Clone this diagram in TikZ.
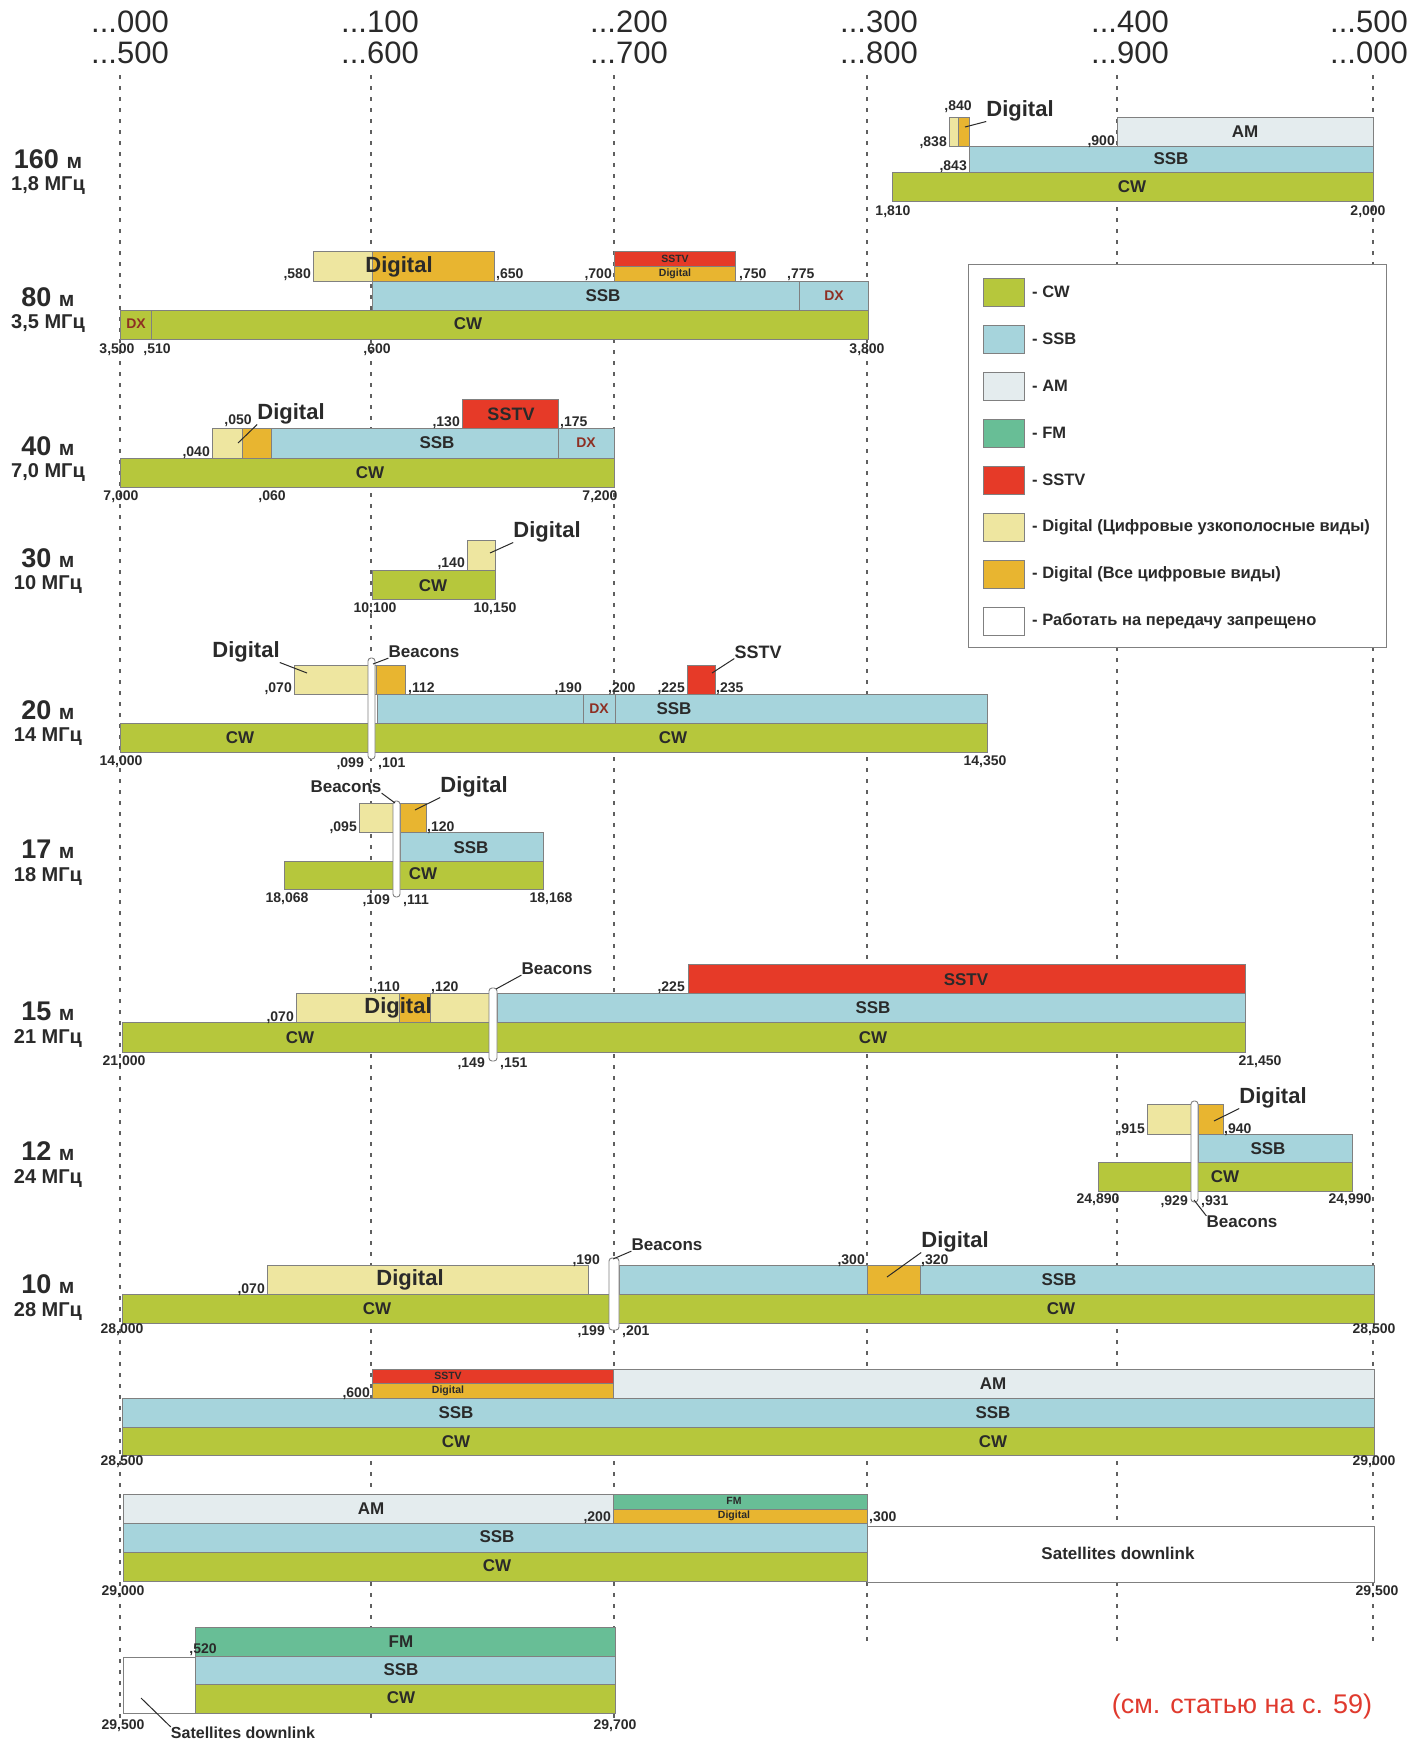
\documentclass[tikz,border=0pt]{standalone}
\usepackage{fontspec}
\setmainfont{Liberation Sans}
\definecolor{cwc}{HTML}{B6C73C}
\definecolor{ssbc}{HTML}{A6D4DC}
\definecolor{amc}{HTML}{E4ECEE}
\definecolor{fmc}{HTML}{68BE96}
\definecolor{sstvc}{HTML}{E63A28}
\definecolor{dignc}{HTML}{EEE6A0}
\definecolor{digac}{HTML}{E8B530}
\definecolor{txtc}{HTML}{2A2A2A}
\definecolor{dxc}{HTML}{8E2F23}
\definecolor{barline}{HTML}{808080}
\definecolor{gridc}{HTML}{606060}
\definecolor{notec}{HTML}{E03A2E}

\tikzset{
  bar/.style={draw=barline, line width=0.9pt},
  cw/.style={bar, fill=cwc},
  ssb/.style={bar, fill=ssbc},
  am/.style={bar, fill=amc},
  fm/.style={bar, fill=fmc},
  sstv/.style={bar, fill=sstvc},
  dign/.style={bar, fill=dignc},
  diga/.style={bar, fill=digac},
  nogo/.style={bar, fill=white},
  beacon/.style={draw=barline, fill=white, line width=0.9pt, rounded corners=3pt},
  lbl/.style={inner sep=0pt, text=txtc, font=\fontsize{17}{19}\selectfont\bfseries},
  biglbl/.style={lbl, font=\fontsize{22}{24}\selectfont\bfseries},
  smalllbl/.style={lbl, font=\fontsize{10.5}{12}\selectfont\bfseries},
  dxlbl/.style={lbl, text=dxc, font=\fontsize{14}{16}\selectfont\bfseries},
  num/.style={inner sep=0pt, text=txtc, font=\fontsize{14}{16}\selectfont\bfseries},
  lead/.style={draw=txtc, line width=1pt},
  gridline/.style={draw=gridc, line width=1.3pt, dash pattern=on 4pt off 7pt},
  head/.style={inner sep=0pt, text=txtc, font=\fontsize{31}{34}\selectfont},
  bandl/.style={inner sep=0pt, text=txtc, font=\fontsize{27}{30}\selectfont\bfseries},
  mhzl/.style={inner sep=0pt, text=txtc, font=\fontsize{20}{22}\selectfont\bfseries},
  legtxt/.style={inner sep=0pt, anchor=west, text=txtc, font=\fontsize{16.5}{18}\selectfont\bfseries},
}
\newcommand\msmall{\fontsize{21}{24}\selectfont}

\begin{document}
\begin{tikzpicture}[x=1pt,y=-1pt]
\path[use as bounding box, fill=white] (0,0) rectangle (1413,1743);

% grid and scale
\foreach \gx/\gy in {120/1720, 371/1720, 614/1720, 867/1645, 1117/1645, 1373/1645}
  \draw[gridline] (\gx,75) -- (\gx,\gy);
\foreach \gx/\ta/\tb [count=\i] in {130/000/500, 380/100/600, 629/200/700, 879/300/800, 1130/400/900, 1369/500/000} {
  \node[head] (ha\i) at (\gx,22) {...\ta};
  \node[head] (hb\i) at (\gx,53) {...\tb};
}

% band names
\foreach \yb/\nm/\fq [count=\i] in {159/160/{1,8}, 297/80/{3,5}, 446/40/{7,0}, 558/30/10, 710/20/14, 849/17/18, 1011/15/21, 1151/12/24, 1284/10/28} {
  \node[bandl] (bn\i) at (48,\yb) {\nm\ {\msmall м}};
  \node[mhzl] (bf\i) at (48,\yb+27) {\fq\ МГц};
}

% legend
\draw[draw=barline, fill=white, line width=0.9pt] (968,264) rectangle (1386,647);
\foreach \st/\tx [count=\i from 0] in {cw/CW, ssb/SSB, am/AM, fm/FM, sstv/SSTV,
    dign/{Digital (Цифровые узкополосные виды)}, diga/{Digital (Все цифровые виды)},
    nogo/{Работать на передачу запрещено}} {
  \draw[\st] (983,278+47*\i) rectangle (1024,306+47*\i);
  \node[legtxt] (lg\i) at (1032,292+47*\i) {- \tx};
}

% 160 m
\draw[am] (1117,117) rectangle (1373,146);
\draw[ssb] (969,146) rectangle (1373,172);
\draw[cw] (892,172) rectangle (1373,201);
\draw[dign] (949,117) rectangle (958,146);
\draw[diga] (958,117) rectangle (969,146);
\node[lbl] (t160am) at (1245,132) {AM};
\node[lbl] (t160ssb) at (1171,159) {SSB};
\node[lbl] (t160cw) at (1132,187) {CW};
\node[biglbl] (dg160) at (1020,111) {Digital};
\node[num] (n160a) at (958,107) {,840};
\node[num, anchor=base east] (n160b) at (947,146) {,838};
\node[num, anchor=base east] (n160c) at (1115,145) {,900};
\node[num, anchor=base east] (n160d) at (967,170) {,843};
\node[num] (n160e) at (893,212) {1,810};
\node[num] (n160f) at (1368,212) {2,000};
\coordinate (p160) at (965,127);
\draw[lead] (dg160.south west) -- (p160);

% 80 m
\draw[dign] (313,251) rectangle (372,281);
\draw[diga] (372,251) rectangle (494,281);
\draw[sstv] (614,251) rectangle (735,266);
\draw[diga] (614,266) rectangle (735,281);
\draw[ssb] (372,281) rectangle (799,310);
\draw[ssb] (799,281) rectangle (868,310);
\draw[cw] (120,310) rectangle (151,339);
\draw[cw] (151,310) rectangle (868,339);
\node[biglbl] (t80dg) at (399,267) {Digital};
\node[smalllbl] (t80st) at (675,259) {SSTV};
\node[smalllbl] (t80sd) at (675,274) {Digital};
\node[lbl] (t80ssb) at (603,296) {SSB};
\node[dxlbl] (t80dxa) at (834,296) {DX};
\node[dxlbl] (t80dxb) at (136,324) {DX};
\node[lbl] (t80cw) at (468,324) {CW};
\node[num, anchor=base east] (n80a) at (311,278) {,580};
\node[num, anchor=base west] (n80b) at (496,278) {,650};
\node[num, anchor=base east] (n80c) at (612,278) {,700};
\node[num, anchor=base west] (n80d) at (739,278) {,750};
\node[num, anchor=base west] (n80e) at (787,278) {,775};
\node[num] (n80f) at (117,350) {3,500};
\node[num] (n80g) at (157,350) {,510};
\node[num] (n80h) at (377,350) {,600};
\node[num] (n80i) at (867,350) {3,800};

% 40 m
\draw[sstv] (462,399) rectangle (558,428);
\draw[dign] (212,428) rectangle (242,458);
\draw[diga] (242,428) rectangle (271,458);
\draw[ssb] (271,428) rectangle (558,458);
\draw[ssb] (558,428) rectangle (614,458);
\draw[cw] (120,458) rectangle (614,487);
\node[lbl, font=\fontsize{18}{20}\selectfont\bfseries] (t40st) at (511,414) {SSTV};
\node[lbl] (t40ssb) at (437,443) {SSB};
\node[dxlbl] (t40dx) at (586,443) {DX};
\node[lbl] (t40cw) at (370,473) {CW};
\node[biglbl] (dg40) at (291,414) {Digital};
\node[num, anchor=base east] (n40a) at (210,456) {,040};
\node[num] (n40b) at (238,421) {,050};
\node[num, anchor=base east] (n40c) at (460,426) {,130};
\node[num, anchor=base west] (n40d) at (560,426) {,175};
\node[num] (n40e) at (121,497) {7,000};
\node[num] (n40f) at (272,497) {,060};
\node[num] (n40g) at (600,497) {7,200};
\coordinate (p40) at (238,443);
\draw[lead] (dg40.south west) -- (p40);

% 30 m
\draw[dign] (467,540) rectangle (495,570);
\draw[cw] (372,570) rectangle (495,599);
\node[lbl] (t30cw) at (433,586) {CW};
\node[biglbl] (dg30) at (547,532) {Digital};
\node[num, anchor=base east] (n30a) at (465,567) {,140};
\node[num] (n30b) at (375,609) {10,100};
\node[num] (n30c) at (495,609) {10,150};
\coordinate (p30) at (490,553);
\draw[lead] (dg30.south west) -- (p30);

% 20 m
\draw[dign] (294,665) rectangle (376,694);
\draw[diga] (376,665) rectangle (405,694);
\draw[sstv] (687,665) rectangle (715,694);
\draw[ssb] (377,694) rectangle (583,723);
\draw[ssb] (583,694) rectangle (615,723);
\draw[ssb] (615,694) rectangle (987,723);
\draw[cw] (120,723) rectangle (987,752);
\draw[beacon] (368,658) rectangle (375,759);
\node[lbl] (t20ssb) at (674,709) {SSB};
\node[dxlbl] (t20dx) at (599,709) {DX};
\node[lbl] (t20cwa) at (240,738) {CW};
\node[lbl] (t20cwb) at (673,738) {CW};
\node[biglbl] (dg20) at (246,652) {Digital};
\node[lbl] (bc20) at (424,652) {Beacons};
\node[lbl, font=\fontsize{18}{20}\selectfont\bfseries] (st20) at (758,652) {SSTV};
\node[num, anchor=base east] (n20a) at (292,692) {,070};
\node[num, anchor=base west] (n20b) at (408,692) {,112};
\node[num, anchor=base east] (n20c) at (582,692) {,190};
\node[num, anchor=base west] (n20d) at (608,692) {,200};
\node[num, anchor=base east] (n20e) at (685,692) {,225};
\node[num, anchor=base west] (n20f) at (716,692) {,235};
\node[num] (n20g) at (121,762) {14,000};
\node[num, anchor=base east] (n20h) at (364,767) {,099};
\node[num, anchor=base west] (n20i) at (378,767) {,101};
\node[num] (n20j) at (985,762) {14,350};
\coordinate (p20d) at (307,673);
\coordinate (p20b) at (373,664);
\coordinate (p20s) at (712,673);
\draw[lead] (dg20.south east) -- (p20d);
\draw[lead] (bc20.south west) -- (p20b);
\draw[lead] (st20.south west) -- (p20s);

% 17 m
\draw[dign] (359,803) rectangle (400,832);
\draw[diga] (400,803) rectangle (426,832);
\draw[ssb] (400,832) rectangle (543,861);
\draw[cw] (284,861) rectangle (543,889);
\draw[beacon] (393,801) rectangle (400,897);
\node[lbl] (t17ssb) at (471,848) {SSB};
\node[lbl] (t17cw) at (423,874) {CW};
\node[lbl] (bc17) at (346,787) {Beacons};
\node[biglbl] (dg17) at (474,787) {Digital};
\node[num, anchor=base east] (n17a) at (357,831) {,095};
\node[num, anchor=base west] (n17b) at (427,831) {,120};
\node[num] (n17c) at (287,899) {18,068};
\node[num, anchor=base east] (n17d) at (390,904) {,109};
\node[num, anchor=base west] (n17e) at (403,904) {,111};
\node[num] (n17f) at (551,899) {18,168};
\coordinate (p17b) at (395,803);
\coordinate (p17d) at (415,810);
\draw[lead] (bc17.south east) -- (p17b);
\draw[lead] (dg17.south west) -- (p17d);

% 15 m
\draw[sstv] (688,964) rectangle (1245,993);
\draw[dign] (296,993) rectangle (490,1022);
\draw[diga] (399,993) rectangle (430,1022);
\draw[ssb] (497,993) rectangle (1245,1022);
\draw[cw] (122,1022) rectangle (1245,1052);
\draw[beacon] (489,988) rectangle (497,1061);
\node[lbl] (t15st) at (966,980) {SSTV};
\node[biglbl] (t15dg) at (398,1008) {Digital};
\node[lbl] (t15ssb) at (873,1008) {SSB};
\node[lbl] (t15cwa) at (300,1038) {CW};
\node[lbl] (t15cwb) at (873,1038) {CW};
\node[lbl] (bc15) at (557,969) {Beacons};
\node[num, anchor=base east] (n15a) at (294,1021) {,070};
\node[num, anchor=base east] (n15b) at (400,991) {,110};
\node[num, anchor=base west] (n15c) at (431,991) {,120};
\node[num, anchor=base east] (n15d) at (685,991) {,225};
\node[num] (n15e) at (124,1062) {21,000};
\node[num, anchor=base east] (n15f) at (485,1067) {,149};
\node[num, anchor=base west] (n15g) at (500,1067) {,151};
\node[num] (n15h) at (1260,1062) {21,450};
\coordinate (p15b) at (496,989);
\draw[lead] (bc15.south west) -- (p15b);

% 12 m
\draw[dign] (1147,1104) rectangle (1198,1134);
\draw[diga] (1198,1104) rectangle (1223,1134);
\draw[ssb] (1198,1134) rectangle (1352,1162);
\draw[cw] (1098,1162) rectangle (1352,1191);
\draw[beacon] (1191,1101) rectangle (1198,1202);
\node[lbl] (t12ssb) at (1268,1149) {SSB};
\node[lbl] (t12cw) at (1225,1177) {CW};
\node[biglbl] (dg12) at (1273,1098) {Digital};
\node[lbl] (bc12) at (1242,1222) {Beacons};
\node[num, anchor=base east] (n12a) at (1145,1133) {,915};
\node[num, anchor=base west] (n12b) at (1224,1133) {,940};
\node[num] (n12c) at (1098,1200) {24,890};
\node[num, anchor=base east] (n12d) at (1188,1205) {,929};
\node[num, anchor=base west] (n12e) at (1201,1205) {,931};
\node[num] (n12f) at (1350,1200) {24,990};
\coordinate (p12d) at (1214,1121);
\coordinate (p12b) at (1194,1200);
\draw[lead] (dg12.south west) -- (p12d);
\draw[lead] (bc12.north west) -- (p12b);

% 10 m
\draw[dign] (267,1265) rectangle (588,1294);
\draw[ssb] (619,1265) rectangle (1374,1294);
\draw[diga] (867,1265) rectangle (920,1294);
\draw[cw] (122,1294) rectangle (1374,1323);
\draw[beacon] (609,1258) rectangle (619,1330);
\node[biglbl] (t10dg) at (410,1280) {Digital};
\node[lbl] (t10ssb) at (1059,1280) {SSB};
\node[lbl] (t10cwa) at (377,1309) {CW};
\node[lbl] (t10cwb) at (1061,1309) {CW};
\node[lbl] (bc10) at (667,1245) {Beacons};
\node[biglbl] (dg10) at (955,1242) {Digital};
\node[num, anchor=base east] (n10a) at (265,1293) {,070};
\node[num, anchor=base east] (n10b) at (600,1264) {,190};
\node[num, anchor=base east] (n10c) at (865,1264) {,300};
\node[num, anchor=base west] (n10d) at (921,1264) {,320};
\node[num] (n10e) at (122,1330) {28,000};
\node[num, anchor=base east] (n10f) at (605,1335) {,199};
\node[num, anchor=base west] (n10g) at (622,1335) {,201};
\node[num] (n10h) at (1374,1330) {28,500};
\coordinate (p10b) at (613,1259);
\coordinate (p10d) at (887,1277);
\draw[lead] (bc10.south west) -- (p10b);
\draw[lead] (dg10.south west) -- (p10d);

% 28,500 - 29,000
\draw[sstv] (372,1369) rectangle (613,1383);
\draw[diga] (372,1383) rectangle (613,1398);
\draw[am] (613,1369) rectangle (1374,1398);
\draw[ssb] (122,1398) rectangle (1374,1427);
\draw[cw] (122,1427) rectangle (1374,1455);
\node[smalllbl] (ta1) at (448,1376) {SSTV};
\node[smalllbl] (ta2) at (448,1391) {Digital};
\node[lbl] (ta3) at (993,1384) {AM};
\node[lbl] (ta4) at (456,1413) {SSB};
\node[lbl] (ta5) at (993,1413) {SSB};
\node[lbl] (ta6) at (456,1442) {CW};
\node[lbl] (ta7) at (993,1442) {CW};
\node[num, anchor=base east] (na1) at (370,1397) {,600};
\node[num] (na2) at (122,1462) {28,500};
\node[num] (na3) at (1374,1462) {29,000};

% 29,000 - 29,500
\draw[am] (123,1494) rectangle (613,1523);
\draw[fm] (613,1494) rectangle (867,1509);
\draw[diga] (613,1509) rectangle (867,1523);
\draw[ssb] (123,1523) rectangle (867,1552);
\draw[cw] (123,1552) rectangle (867,1581);
\draw[nogo] (867,1526) rectangle (1374,1582);
\node[lbl] (tb1) at (371,1509) {AM};
\node[smalllbl] (tb2) at (734,1501) {FM};
\node[smalllbl] (tb3) at (734,1516) {Digital};
\node[lbl] (tb4) at (497,1537) {SSB};
\node[lbl] (tb5) at (497,1566) {CW};
\node[lbl] (tb6) at (1118,1553) {Satellites downlink};
\node[num, anchor=base east] (nb1) at (611,1521) {,200};
\node[num, anchor=base west] (nb2) at (869,1521) {,300};
\node[num] (nb3) at (123,1592) {29,000};
\node[num] (nb4) at (1377,1592) {29,500};

% 29,500 - 29,700
\draw[fm] (195,1627) rectangle (615,1656);
\draw[ssb] (195,1656) rectangle (615,1684);
\draw[cw] (195,1684) rectangle (615,1713);
\draw[nogo] (123,1657) rectangle (195,1713);
\node[lbl] (tc1) at (401,1642) {FM};
\node[lbl] (tc2) at (401,1670) {SSB};
\node[lbl] (tc3) at (401,1698) {CW};
\node[num] (nc1) at (203,1650) {,520};
\node[num] (nc2) at (123,1726) {29,500};
\node[num] (nc3) at (615,1726) {29,700};
\node[lbl, font=\fontsize{16}{18}\selectfont\bfseries] (sd) at (243,1733) {Satellites downlink};
\coordinate (psd) at (141,1698);
\draw[lead] (sd.north west) -- (psd);

\node[inner sep=0pt, text=notec, font=\fontsize{27}{30}\selectfont] (note) at (1242,1706) {(см. статью на с. 59)};
\end{tikzpicture}
\end{document}
